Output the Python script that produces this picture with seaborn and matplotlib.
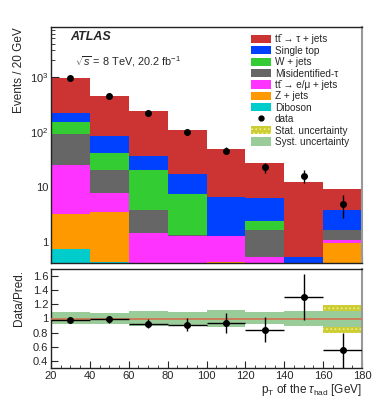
import numpy as np
import pandas as pd
import matplotlib
matplotlib.use('Agg')
import matplotlib.pyplot as plt
from matplotlib.patches import Patch
from matplotlib.lines import Line2D
from matplotlib.ticker import FixedLocator, MultipleLocator, LogLocator, NullFormatter
import seaborn as sns

# binning (GeV)
edges = [20, 40, 60, 80, 100, 120, 140, 160, 180]
centers = [30, 50, 70, 90, 110, 130, 150, 170]

# predicted events per bin for each process
ttbar_tau = [748, 363, 202, 92.6, 42.4, 21.1, 11.7, 5.15]
single_top = [69, 42, 16, 9.9, 5.28, 3.92, 0.55, 2.2]
wjets = [61, 20.3, 16.1, 6.1, 0, 0.7, 0, 0]
misid_tau = [67, 12.8, 2.44, 0.09, 0, 1.15, 0, 0.6]
ttbar_lep = [21.8, 4.3, 1.46, 1.29, 0.89, 0.53, 0, 0.14]
zjets = [2.45, 3.16, 0, 0, 0.43, 0, 0, 0.96]
diboson = [0.75, 0.44, 0, 0, 0, 0, 0, 0]

# observed data
data = [948, 441, 221, 100, 46, 23, 16, 5]

# relative uncertainty bands in the ratio panel
syst_up = [1.085, 1.071, 1.105, 1.085, 1.119, 1.085, 1.105, 1.113]
syst_dn = [0.917, 0.927, 0.900, 0.890, 0.885, 0.917, 0.899, 0.885]
stat_up = [1.02, 1.03, 1.04, 1.05, 1.07, 1.07, 1.09, 1.197]
stat_dn = [0.98, 0.97, 0.96, 0.95, 0.93, 0.93, 0.91, 0.800]

labels = [
    'tt\u0304 \u2192 τ + jets',
    'Single top',
    'W + jets',
    'Misidentified-τ',
    'tt\u0304 \u2192 e/μ + jets',
    'Z + jets',
    'Diboson',
]
colors = ['#cc3333', '#0040ff', '#33cc33', '#666666', '#ff33ff', '#ff9900', '#00cccc']
series = [ttbar_tau, single_top, wjets, misid_tau, ttbar_lep, zjets, diboson]

sns.set_style('ticks')
plt.rcParams['font.family'] = ['Liberation Sans', 'DejaVu Sans']
plt.rcParams['mathtext.fontset'] = 'custom'
plt.rcParams['mathtext.rm'] = 'Liberation Sans'
plt.rcParams['mathtext.it'] = 'Liberation Sans:italic'
plt.rcParams['mathtext.bf'] = 'Liberation Sans:bold'
plt.rcParams['hatch.linewidth'] = 0.8

rows = []
for lab, vals in zip(labels, series):
    for c, v in zip(centers, vals):
        rows.append({'process': lab, 'pt': c, 'events': v})
df = pd.DataFrame(rows)

fig = plt.figure(figsize=(3.9, 4.12), dpi=100)
ax = fig.add_axes([51 / 390, 1 - 263 / 412, 311 / 390, 236 / 412])
ax2 = fig.add_axes([51 / 390, 1 - 368 / 412, 311 / 390, 99 / 412])

# stacked prediction (first hue level ends up on top)
sns.histplot(
    data=df, x='pt', weights='events', hue='process',
    hue_order=labels, palette=dict(zip(labels, colors)),
    multiple='stack', bins=edges, element='bars', fill=True,
    alpha=1, linewidth=0, legend=False, ax=ax
)
ax.set_yscale('log')
ax.errorbar(centers, data, yerr=np.sqrt(data), fmt='o', color='black',
            ms=4, elinewidth=1, capsize=0, zorder=5)

ax.set_xlim(20, 180)
ax.set_ylim(0.42, 8000)
ax.set_xlabel('')
ax.set_ylabel('Events / 20 GeV', fontsize=8.5, loc='top')
ax.yaxis.set_label_coords(-0.085, 1.0)
ax.yaxis.set_major_locator(FixedLocator([1, 10, 100, 1000]))
ax.set_yticklabels(['1', '10', r'$10^{2}$', r'$10^{3}$'])
ax.yaxis.set_minor_locator(LogLocator(base=10, subs=np.arange(2, 10)))
ax.yaxis.set_minor_formatter(NullFormatter())
ax.xaxis.set_major_locator(MultipleLocator(20))
ax.xaxis.set_minor_locator(MultipleLocator(5))
ax.tick_params(which='both', direction='in', top=False, right=False, labelbottom=False)
ax.tick_params(which='major', length=6, labelsize=8, pad=2)
ax.tick_params(which='minor', length=3)

ax.text(0.061, 0.947, 'ATLAS', transform=ax.transAxes, fontsize=9,
        fontweight='bold', fontstyle='italic', va='baseline')
ax.text(0.077, 0.835, r'$\sqrt{s}$ = 8 TeV, 20.2 fb$^{-1}$', transform=ax.transAxes,
        fontsize=7.8, va='baseline')

handles = [Patch(facecolor=c, edgecolor='none') for c in colors]
handles.append(Line2D([], [], marker='o', color='black', ls='none', ms=3.5))
handles.append(Patch(facecolor='#cccc33', edgecolor='#eeee88', hatch='....', lw=0))
handles.append(Patch(facecolor='#99cc99', edgecolor='none'))
leg_labels = labels + ['data', 'Stat. uncertainty', 'Syst. uncertainty']
ax.legend(handles, leg_labels, loc='upper left', bbox_to_anchor=(0.627, 0.99),
          frameon=False, fontsize=7.2, borderpad=0, handlelength=2.0,
          handleheight=0.9, handletextpad=0.4, labelspacing=0.14)

# ratio panel
total = np.sum(np.array(series), axis=0)
ratio = np.array(data) / total
ratio_err = np.sqrt(data) / total

ax2.bar(centers, np.array(stat_up) - np.array(stat_dn), bottom=stat_dn, width=20,
        color='#cccc33', hatch='....', edgecolor='#eeee88', lw=0, zorder=1)
ax2.bar(centers, np.array(syst_up) - np.array(syst_dn), bottom=syst_dn, width=20,
        color='#99cc99', lw=0, zorder=2)
ax2.axhline(1.0, color='#d2704e', lw=1.2, zorder=3)
ax2.errorbar(centers, ratio, yerr=ratio_err, xerr=10, fmt='o', color='black',
             ms=4, elinewidth=1, capsize=0, zorder=5)

ax2.set_xlim(20, 180)
ax2.set_ylim(0.3, 1.7)
ax2.yaxis.set_major_locator(FixedLocator([0.4, 0.6, 0.8, 1.0, 1.2, 1.4, 1.6]))
ax2.set_yticklabels(['0.4', '0.6', '0.8', '1', '1.2', '1.4', '1.6'])
ax2.xaxis.set_major_locator(MultipleLocator(20))
ax2.xaxis.set_minor_locator(MultipleLocator(5))
ax2.tick_params(which='both', direction='in', top=False, right=False)
ax2.tick_params(which='major', length=5, labelsize=8, pad=2)
ax2.tick_params(which='minor', length=2.5)
ax2.set_ylabel('Data/Pred.', fontsize=8.5)
ax2.yaxis.set_label_coords(-0.085, 0.71)
ax2.set_xlabel(r'p$_\mathrm{T}$ of the $\tau_\mathrm{had}$ [GeV]', fontsize=8.5,
               loc='right', labelpad=1)

for a in (ax, ax2):
    for s in a.spines.values():
        s.set_color('#222222')
        s.set_linewidth(1)
    a.spines['right'].set_color('#999999')
    a.spines['right'].set_linewidth(1.5)

fig.savefig('out.png', dpi=100)
